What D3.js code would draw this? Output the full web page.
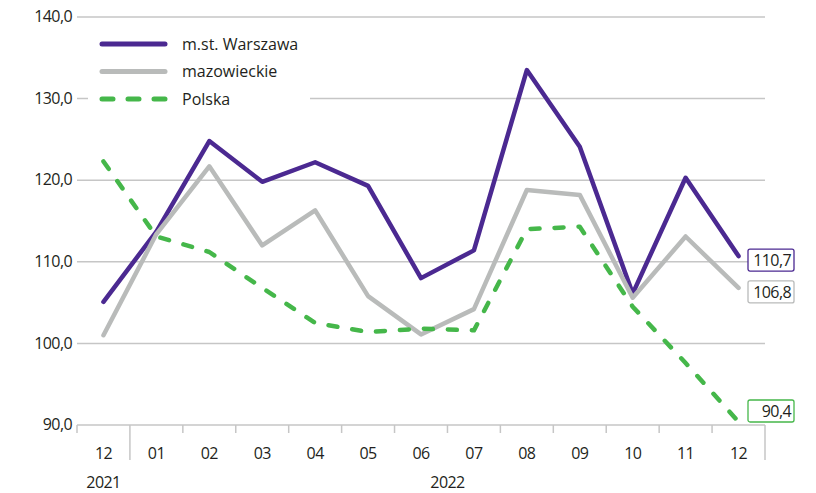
<!DOCTYPE html>
<html>
<head>
<meta charset="utf-8">
<script src="https://cdn.jsdelivr.net/npm/d3@7"></script>
<style>
  html, body { margin: 0; padding: 0; background: #fff; }
  svg { display: block; font-family: "Open Sans", "Noto Sans", sans-serif; }
</style>
</head>
<body>
<svg id="chart" width="816" height="493"></svg>
<script>
const months = ["12", "01", "02", "03", "04", "05", "06", "07", "08", "09", "10", "11", "12"];
const years = [{label: "2021", from: 0, to: 0}, {label: "2022", from: 1, to: 12}];
const yTicks = [90, 100, 110, 120, 130, 140];

const warszawa    = [105.1, 113.7, 124.8, 119.8, 122.2, 119.3, 108.0, 111.4, 133.5, 124.1, 106.1, 120.3, 110.7];
const mazowieckie = [101.0, 113.4, 121.7, 112.0, 116.3, 105.8, 101.1, 104.2, 118.8, 118.2, 105.6, 113.1, 106.8];
const polska      = [122.3, 113.1, 111.2, 106.8, 102.5, 101.4, 101.8, 101.6, 114.0, 114.3, 104.5, 97.6, 90.4];

const seriesNames = ["m.st. Warszawa", "mazowieckie", "Polska"];

const series = [
  {name: seriesNames[0], values: warszawa, color: "#4b2991", dash: null},
  {name: seriesNames[1], values: mazowieckie, color: "#b9bbba", dash: null},
  {name: seriesNames[2], values: polska, color: "#45b74a", dash: "9,15"}
];

const svg = d3.select("#chart");
const pLeft = 77, pRight = 765, pTop = 17, pBottom = 425;
const textColor = "#231f20";
const gridColor = "#c6c6c6";
const axisFont = 16, axisSpacing = -0.6;
const fmt = v => d3.format(".1f")(v).replace(".", ",");

const x = d3.scaleBand().domain(d3.range(months.length)).range([pLeft, pRight]);
const y = d3.scaleLinear().domain([90, 140]).range([pBottom, pTop]);
const cx = i => x(i) + x.bandwidth() / 2;

// gridlines
svg.append("g").selectAll("line").data(yTicks).join("line")
  .attr("x1", pLeft).attr("x2", pRight)
  .attr("y1", d => y(d)).attr("y2", d => y(d))
  .attr("stroke", gridColor).attr("stroke-width", 1.5);

// y labels
svg.append("g").selectAll("text").data(yTicks).join("text")
  .attr("x", pLeft - 5).attr("y", d => y(d)).attr("dy", "0.32em")
  .attr("text-anchor", "end").attr("font-size", axisFont).attr("letter-spacing", axisSpacing)
  .attr("fill", textColor)
  .text(d => fmt(d));

// x separators
const edges = d3.range(months.length + 1);
svg.append("g").selectAll("line").data(edges).join("line")
  .attr("x1", d => d < months.length ? x(d) : pRight)
  .attr("x2", d => d < months.length ? x(d) : pRight)
  .attr("y1", pBottom)
  .attr("y2", d => (d === 1 || d === months.length) ? pBottom + 35 : pBottom + 8)
  .attr("stroke", gridColor).attr("stroke-width", 1.5);

// month labels
svg.append("g").selectAll("text").data(months).join("text")
  .attr("x", (d, i) => cx(i)).attr("y", pBottom + 34)
  .attr("text-anchor", "middle").attr("font-size", axisFont).attr("letter-spacing", axisSpacing)
  .attr("fill", textColor)
  .text(d => d);

// year labels
svg.append("g").selectAll("text").data(years).join("text")
  .attr("x", d => (cx(d.from) + cx(d.to)) / 2).attr("y", pBottom + 63)
  .attr("text-anchor", "middle").attr("font-size", axisFont).attr("letter-spacing", axisSpacing)
  .attr("fill", textColor)
  .text(d => d.label);

// legend background
svg.append("rect").attr("x", 88).attr("y", 28).attr("width", 222).attr("height", 86).attr("fill", "#fff");

// lines
const line = d3.line().x((d, i) => cx(i)).y(d => y(d));
svg.append("g").selectAll("path").data(series).join("path")
  .attr("d", d => line(d.values))
  .attr("fill", "none")
  .attr("stroke", d => d.color)
  .attr("stroke-width", 4.5)
  .attr("stroke-linejoin", "round")
  .attr("stroke-linecap", "round")
  .attr("stroke-dasharray", d => d.dash);

// legend
const lg = svg.append("g").selectAll("g").data(series).join("g")
  .attr("transform", (d, i) => `translate(0, ${44 + i * 27.5})`);
lg.append("line").attr("x1", 102).attr("x2", 165).attr("y1", 0).attr("y2", 0)
  .attr("stroke", d => d.color).attr("stroke-width", 5)
  .attr("stroke-linecap", "round").attr("stroke-dasharray", d => d.dash ? "11,15" : null);
lg.append("text").attr("x", 182).attr("y", 0).attr("dy", "0.35em")
  .attr("font-size", 16).attr("fill", textColor).text(d => d.name);

// end labels
const last = months.length - 1;
const endG = svg.append("g").selectAll("g").data(series).join("g")
  .attr("transform", d => {
    const cy = Math.min(y(d.values[last]) + 4, pBottom - 14);
    return `translate(${pRight - 17}, ${cy})`;
  });
endG.append("rect").attr("x", 0).attr("y", -11).attr("width", 46).attr("height", 22)
  .attr("rx", 2).attr("fill", "#fff").attr("stroke", d => d.color).attr("stroke-width", 1.3);
endG.append("text").attr("x", 43).attr("y", 0).attr("dy", "0.35em")
  .attr("text-anchor", "end").attr("font-size", axisFont).attr("letter-spacing", axisSpacing)
  .attr("fill", textColor)
  .text(d => fmt(d.values[last]));
</script>
</body>
</html>
